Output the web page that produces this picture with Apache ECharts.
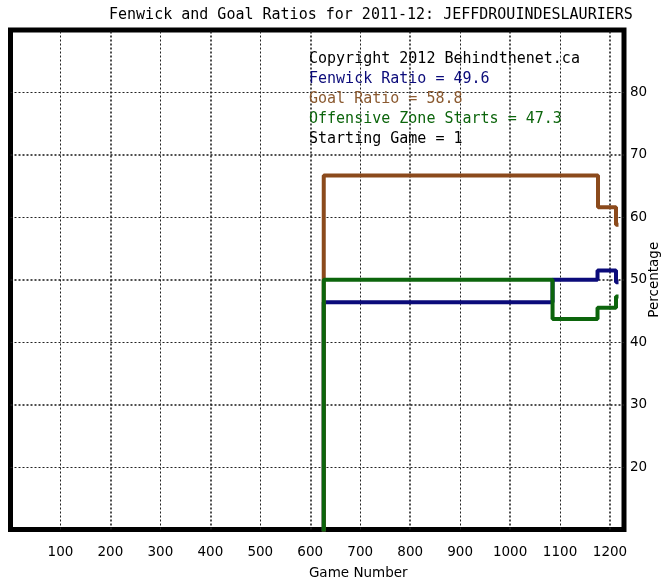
<!DOCTYPE html>
<html>
<head>
<meta charset="utf-8">
<script src="https://cdn.jsdelivr.net/npm/echarts@6/dist/echarts.min.js"></script>
<style>html,body{margin:0;padding:0;background:#fff}#c{width:665px;height:580px}</style>
</head>
<body>
<div id="c"></div>
<script>
// ---- data ----
const chartTitle = 'Fenwick and Goal Ratios for 2011-12: JEFFDROUINDESLAURIERS';
const infoLines = ['Copyright 2012 Behindthenet.ca', 'Fenwick Ratio = 49.6', 'Goal Ratio = 58.8', 'Offensive Zone Starts = 47.3', 'Starting Game = 1'];
const xTicks = [100, 200, 300, 400, 500, 600, 700, 800, 900, 1000, 1100, 1200];
const yTicks = [20, 30, 40, 50, 60, 70, 80];
const stepGames = [627, 627, 1085, 1175, 1212, 1217];
const fenwickRatio = [0, 46.4, 50.0, 51.5, 49.6, 49.6];
const ozStarts = [0, 50.0, 43.7, 45.5, 47.3, 47.3];
const goalGames = [627, 627, 1176, 1212, 1217];
const goalRatio = [0, 66.7, 61.6, 58.8, 58.8];

// ---- styles ----
const C_FEN = '#0b0b7a', C_GOAL = '#8b4a1c', C_OZ = '#0c650c';
const infoColors = ['#000', C_FEN, '#8b5a30', C_OZ, '#000'];
const MONO = '"DejaVu Sans Mono", monospace';
const SANS = '"DejaVu Sans", sans-serif';

const pair = (xs, ys) => xs.map((x, i) => [x, ys[i]]);
const gridStyle = i => (i % 2 === 0)
  ? { type: [2, 2], width: 1, color: '#222' }
  : { type: [2, 2], width: 1.6, color: '#222' };

const markData = [];
xTicks.forEach((v, i) => markData.push({ xAxis: v, lineStyle: gridStyle(i) }));
yTicks.slice().reverse().forEach((v, i) => markData.push({ yAxis: v, lineStyle: gridStyle(i) }));

const titles = [{ text: chartTitle, left: 104, top: 3, textStyle: { fontFamily: MONO, fontSize: 15, fontWeight: 'normal', color: '#000' } }];
infoLines.forEach((t, i) => titles.push({ text: t, left: 304, top: 47 + i * 20, textStyle: { fontFamily: MONO, fontSize: 15, fontWeight: 'normal', color: infoColors[i] } }));

const chart = echarts.init(document.getElementById('c'), null, { renderer: 'canvas' });
chart.setOption({
  animation: false,
  backgroundColor: '#fff',
  title: titles,
  grid: { left: 10.5, top: 30, right: 41, bottom: 50.5, show: true, borderColor: '#000', borderWidth: 5, backgroundColor: 'transparent', containLabel: false, outerBoundsMode: 'none' },
  xAxis: {
    type: 'value', min: 0, max: 1228, interval: 100,
    axisLine: { show: false }, axisTick: { show: false }, splitLine: { show: false },
    axisLabel: { margin: 16, fontFamily: SANS, fontSize: 13.5, color: '#000', formatter: v => xTicks.includes(v) ? String(v) : '' },
    name: 'Game Number', nameLocation: 'middle', nameGap: 37, nameMoveOverlap: false,
    nameTextStyle: { fontFamily: SANS, fontSize: 13.5, color: '#000', padding: [0, 0, 0, 82] }
  },
  yAxis: {
    type: 'value', min: 10, max: 90, interval: 10, position: 'right',
    axisLine: { show: false }, axisTick: { show: false }, splitLine: { show: false },
    axisLabel: { margin: 6, fontFamily: SANS, fontSize: 13.5, color: '#000', formatter: v => yTicks.includes(v) ? String(v) : '' },
    name: 'Percentage', nameLocation: 'middle', nameGap: 23, nameRotate: 90, nameMoveOverlap: false,
    nameTextStyle: { fontFamily: SANS, fontSize: 13.5, color: '#000' }
  },
  series: [
    { type: 'line', z: 1, data: [], silent: true,
      markLine: { silent: true, z: 1, symbol: ['none', 'none'], label: { show: false }, emphasis: { disabled: true }, data: markData } },
    { name: 'Fenwick', type: 'line', step: 'end', data: pair(stepGames, fenwickRatio), showSymbol: false, symbol: 'none', lineStyle: { color: C_FEN, width: 4 }, z: 3 },
    { name: 'Goal', type: 'line', step: 'end', data: pair(goalGames, goalRatio), showSymbol: false, symbol: 'none', lineStyle: { color: C_GOAL, width: 4 }, z: 4 },
    { name: 'OZ', type: 'line', step: 'end', data: pair(stepGames, ozStarts), showSymbol: false, symbol: 'none', lineStyle: { color: C_OZ, width: 4 }, z: 5 }
  ]
});
</script>
</body>
</html>
